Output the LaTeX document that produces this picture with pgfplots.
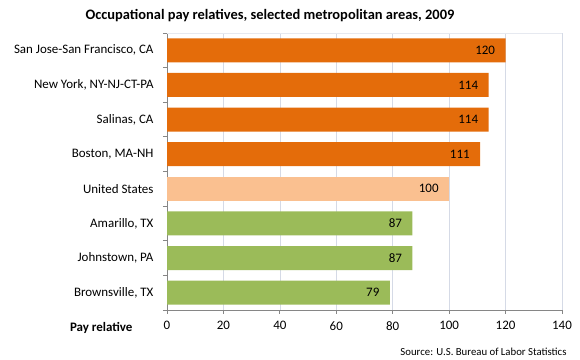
\documentclass[border=0pt]{standalone}
\usepackage{pgfplots}
\pgfplotsset{compat=1.18}
\usepackage{fontspec}
\setmainfont{Carlito}
\definecolor{barorange}{HTML}{E46C0A}
\definecolor{barlight}{HTML}{FAC090}
\definecolor{bargreen}{HTML}{9BBB59}
\definecolor{gridc}{HTML}{D5DAE6}
\definecolor{axc}{HTML}{868686}
\begin{document}
\begin{tikzpicture}
\useasboundingbox (0,0) rectangle (580bp,360bp);
\node[font=\bfseries\fontsize{14.5}{16}\selectfont, anchor=center] at (270bp,344.5bp) {Occupational pay relatives, selected metropolitan areas, 2009};
\node[font=\bfseries\fontsize{13}{15}\selectfont, anchor=east] at (136bp,32bp) {Pay relative};
\node[font=\fontsize{10.8}{12}\selectfont, anchor=east] at (570bp,8bp) {Source: U.S. Bureau of Labor Statistics};
\begin{axis}[
  at={(167bp,50bp)}, anchor=south west,
  scale only axis, width=395bp, height=277bp,
  xbar, bar width=24bp, bar shift=0pt,
  xmin=0, xmax=140, xtick={0,20,...,140},
  ymin=-0.5, ymax=7.5,
  ytick={0,...,7},
  yticklabels={{Brownsville, TX},{Johnstown, PA},{Amarillo, TX},{United States},{Boston, MA-NH},{Salinas, CA},{New York, NY-NJ-CT-PA},{San Jose-San Francisco, CA}},
  minor ytick={-0.5,0.5,...,7.5},
  major y tick style={draw=none},
  minor y tick style={axc, line width=0.8pt},
  minor tick length=4bp,
  major x tick style={axc, line width=0.8pt},
  major tick length=4bp,
  xtick pos=bottom, ytick pos=left,
  tick align=outside,
  axis x line*=bottom, axis y line*=left,
  axis line style={axc, line width=0.8pt},
  xmajorgrids, grid style={gridc, line width=0.6pt},
  /pgf/number format/assume math mode=true,
  tick label style={font=\fontsize{13}{15}\selectfont, black},
  xticklabel style={yshift=-4bp},
  yticklabel style={xshift=-6bp},
  nodes near coords,
  nodes near coords style={font=\fontsize{13}{15}\selectfont, black, anchor=east, xshift=-7bp},
  clip=false,
]
\addplot[fill=barorange, draw=none] coordinates {(111,4) (114,5) (114,6) (120,7)};
\addplot[fill=barlight, draw=none] coordinates {(100,3)};
\addplot[fill=bargreen, draw=none] coordinates {(79,0) (87,1) (87,2)};
\draw[gridc!60, line width=0.6pt] (axis cs:0,7.5) -- (axis cs:140,7.5);
\end{axis}
\end{tikzpicture}
\end{document}
